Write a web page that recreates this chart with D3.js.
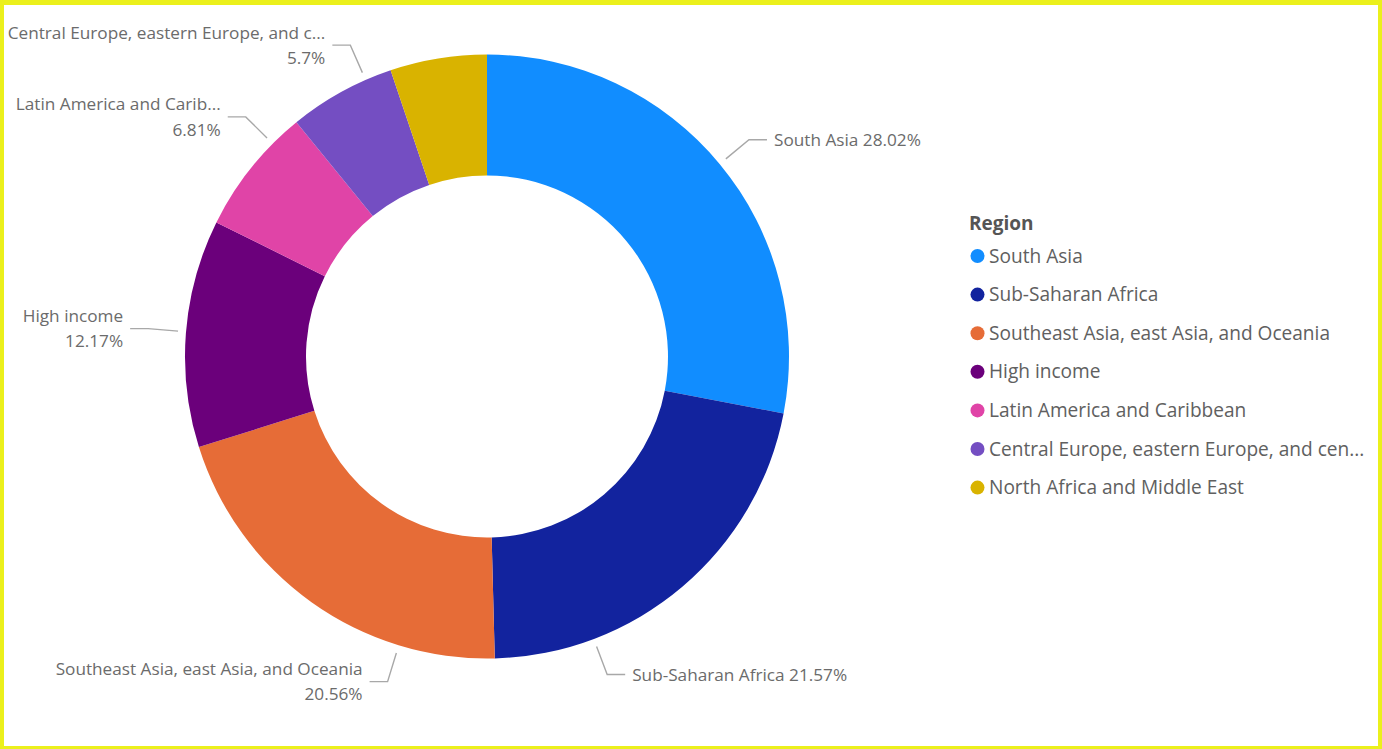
<!DOCTYPE html>
<html>
<head>
<meta charset="utf-8">
<script src="https://cdn.jsdelivr.net/npm/d3@7"></script>
<style>
  html, body { margin: 0; padding: 0; background: #fff; overflow: hidden; }
  svg { display: block; }
  text { font-family: "Open Sans", "Noto Sans", sans-serif; }
</style>
</head>
<body>
<svg id="chart" width="1382" height="749"></svg>
<script>
// Share of total by region (percent)
const regions = [
  "South Asia",
  "Sub-Saharan Africa",
  "Southeast Asia, east Asia, and Oceania",
  "High income",
  "Latin America and Caribbean",
  "Central Europe, eastern Europe, and central Asia",
  "North Africa and Middle East"
];
const shares = [28.02, 21.57, 20.56, 12.17, 6.81, 5.70, 5.17];
const colors = ["#118DFF", "#12239E", "#E66C37", "#6B007B", "#E044A7", "#744EC2", "#D9B300"];

// Text as shown (truncated where the space runs out)
const legendLabels = [
  "South Asia",
  "Sub-Saharan Africa",
  "Southeast Asia, east Asia, and Oceania",
  "High income",
  "Latin America and Caribbean",
  "Central Europe, eastern Europe, and cen...",
  "North Africa and Middle East"
];
const sliceLabels = [
  "South Asia",
  "Sub-Saharan Africa",
  "Southeast Asia, east Asia, and Oceania",
  "High income",
  "Latin America and Carib...",
  "Central Europe, eastern Europe, and c...",
  null // too small to label
];
// Where each leader line leaves the ring (degrees clockwise from 12 o'clock),
// nudged apart so the labels do not collide
const leaderAngles = [50.4, 159.3, 197, 274.7, 314.8, 336.3, null];
const legendTitle = "Region";

const W = 1382, H = 749;
const svg = d3.select("#chart");

// frame
svg.append("rect").attr("width", W).attr("height", H).attr("fill", "#EBF01C");
svg.append("rect").attr("x", 4).attr("y", 5).attr("width", W - 8).attr("height", H - 8).attr("fill", "#fff");

const cx = 487, cy = 356.5;
const outerR = 302, innerR = 181;

const data = regions.map((r, i) => ({
  region: r, value: shares[i], color: colors[i],
  label: sliceLabels[i], leader: leaderAngles[i]
}));
const total = d3.sum(data, d => d.value);
const fmtPct = v => (+(v / total * 100).toFixed(2)) + "%";

const pie = d3.pie().sort(null).value(d => d.value).startAngle(0).endAngle(2 * Math.PI);
const arc = d3.arc().innerRadius(innerR).outerRadius(outerR);

const g = svg.append("g").attr("transform", `translate(${cx},${cy})`);
const arcs = pie(data);

g.selectAll("path.slice")
  .data(arcs)
  .join("path")
  .attr("class", "slice")
  .attr("d", arc)
  .attr("fill", d => d.data.color);

// data labels with leader lines
const polar = (r, deg) => {
  const a = deg * Math.PI / 180;
  return [r * Math.sin(a), -r * Math.cos(a)];
};
const labelled = arcs.filter(d => d.data.label);
const lg = g.append("g");
labelled.forEach(d => {
  const deg = d.data.leader;
  const p0 = polar(310, deg);
  const p1 = polar(340, deg);
  const side = Math.sin(deg * Math.PI / 180) >= 0 ? 1 : -1;
  const p2 = [p1[0] + side * 18, p1[1]];
  lg.append("polyline")
    .attr("points", [p0, p1, p2].map(p => p.join(",")).join(" "))
    .attr("fill", "none")
    .attr("stroke", "#A8A8A8")
    .attr("stroke-width", 1.4);
  const tx = p2[0] + side * 7;
  const pct = fmtPct(d.data.value);
  const t = lg.append("text")
    .attr("x", tx)
    .attr("text-anchor", side > 0 ? "start" : "end")
    .attr("fill", "#6B6B6B")
    .attr("font-size", 17.2);
  if (side > 0) {
    t.attr("y", p2[1]).attr("dy", "0.35em").text(`${d.data.label} ${pct}`);
  } else {
    t.append("tspan").attr("x", tx).attr("y", p2[1] - 12.5).attr("dy", "0.35em").text(d.data.label);
    t.append("tspan").attr("x", tx).attr("y", p2[1] + 12.8).attr("dy", "0.35em").text(pct);
  }
});

// legend
const legend = svg.append("g").attr("transform", "translate(969,223)");
legend.append("text")
  .attr("x", 0).attr("y", 0).attr("dy", "0.35em")
  .attr("font-size", 19).attr("font-weight", 700)
  .attr("fill", "#555")
  .text(legendTitle);
const item = legend.selectAll("g.item")
  .data(data)
  .join("g")
  .attr("class", "item")
  .attr("transform", (d, i) => `translate(0,${33 + i * 38.6})`);
item.append("circle").attr("cx", 8.5).attr("cy", 0).attr("r", 7).attr("fill", d => d.color);
item.append("text")
  .attr("x", 20).attr("y", 0).attr("dy", "0.35em")
  .attr("font-size", 19.1)
  .attr("fill", "#606060")
  .text((d, i) => legendLabels[i]);
</script>
</body>
</html>
